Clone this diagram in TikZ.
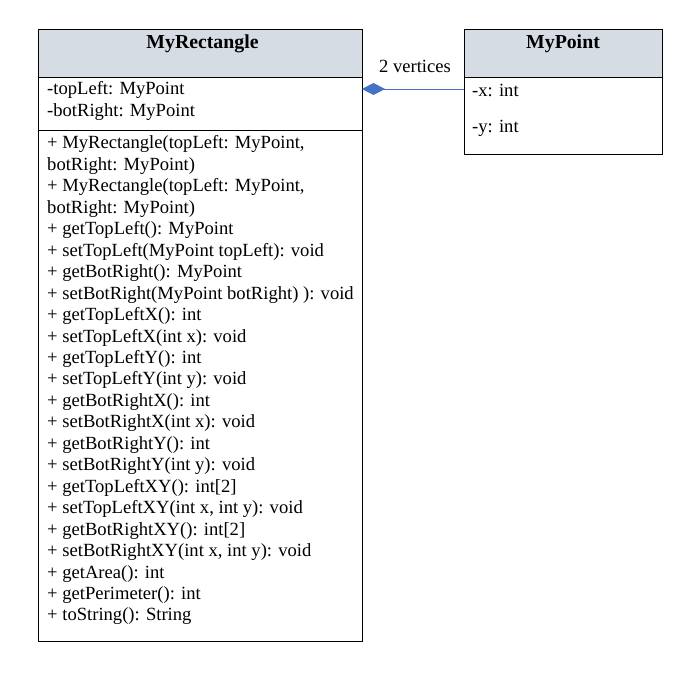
\documentclass[tikz,border=0pt]{standalone}
\usepackage{fontspec}
\setmainfont{Liberation Serif}
\usetikzlibrary{arrows.meta}
\definecolor{hdr}{HTML}{D6DCE4}
\definecolor{lnk}{HTML}{4472C4}
\begin{document}
\begin{tikzpicture}[x=1pt,y=-1pt,
  box/.style={draw=black,line width=0.8pt,anchor=north west,inner sep=0pt,outer sep=0pt},
  hbox/.style={box,fill=hdr},
  txt/.style={anchor=base west,inner sep=0pt,font=\fontsize{18.6}{22}\selectfont},
  ttl/.style={anchor=base,inner sep=0pt,font=\fontsize{19.8}{23}\selectfont\bfseries}]
\useasboundingbox (0,0) rectangle (699,684);
% MyRectangle
\node[hbox,minimum width=324pt,minimum height=48pt] (rh) at (38,29) {};
\node[box,minimum width=324pt,minimum height=53pt] (ra) at (38,77) {};
\node[box,minimum width=324pt,minimum height=511pt] (rm) at (38,130) {};
\node[ttl] (rt) at (202.5,49) {MyRectangle};
\node[txt] (a1) at (47,95) {-topLeft: MyPoint};
\node[txt] (a2) at (47,116.5) {-botRight: MyPoint};
\foreach \s [count=\i from 0] in {%
  {+ MyRectangle(topLeft: MyPoint,},
  {botRight: MyPoint)},
  {+ MyRectangle(topLeft: MyPoint,},
  {botRight: MyPoint)},
  {+ getTopLeft(): MyPoint},
  {+ setTopLeft(MyPoint topLeft): void},
  {+ getBotRight(): MyPoint},
  {+ setBotRight(MyPoint botRight) ): void},
  {+ getTopLeftX(): int},
  {+ setTopLeftX(int x): void},
  {+ getTopLeftY(): int},
  {+ setTopLeftY(int y): void},
  {+ getBotRightX(): int},
  {+ setBotRightX(int x): void},
  {+ getBotRightY(): int},
  {+ setBotRightY(int y): void},
  {+ getTopLeftXY(): int[2]},
  {+ setTopLeftXY(int x, int y): void},
  {+ getBotRightXY(): int[2]},
  {+ setBotRightXY(int x, int y): void},
  {+ getArea(): int},
  {+ getPerimeter(): int},
  {+ toString(): String}}
  \node[txt] (m\i) at (47,{149+21.45*\i}) {\s};
% MyPoint
\node[hbox,minimum width=198pt,minimum height=48pt] (ph) at (464,29) {};
\node[box,minimum width=198pt,minimum height=77pt] (pa) at (464,77) {};
\node[ttl] (pt) at (563,49) {MyPoint};
\node[txt] (p1) at (472,97) {-x: int};
\node[txt] (p2) at (472,133) {-y: int};
% association
\coordinate (c1) at (362,89);
\coordinate (c2) at (464,89);
\draw[lnk,line width=0.8pt,{Diamond[length=23pt,width=12pt,fill=lnk]}-] (c1) -- (c2);
\node[anchor=base,inner sep=0pt,font=\fontsize{18.6}{22}\selectfont] (lbl) at (415,73) {2 vertices};
\end{tikzpicture}
\end{document}
